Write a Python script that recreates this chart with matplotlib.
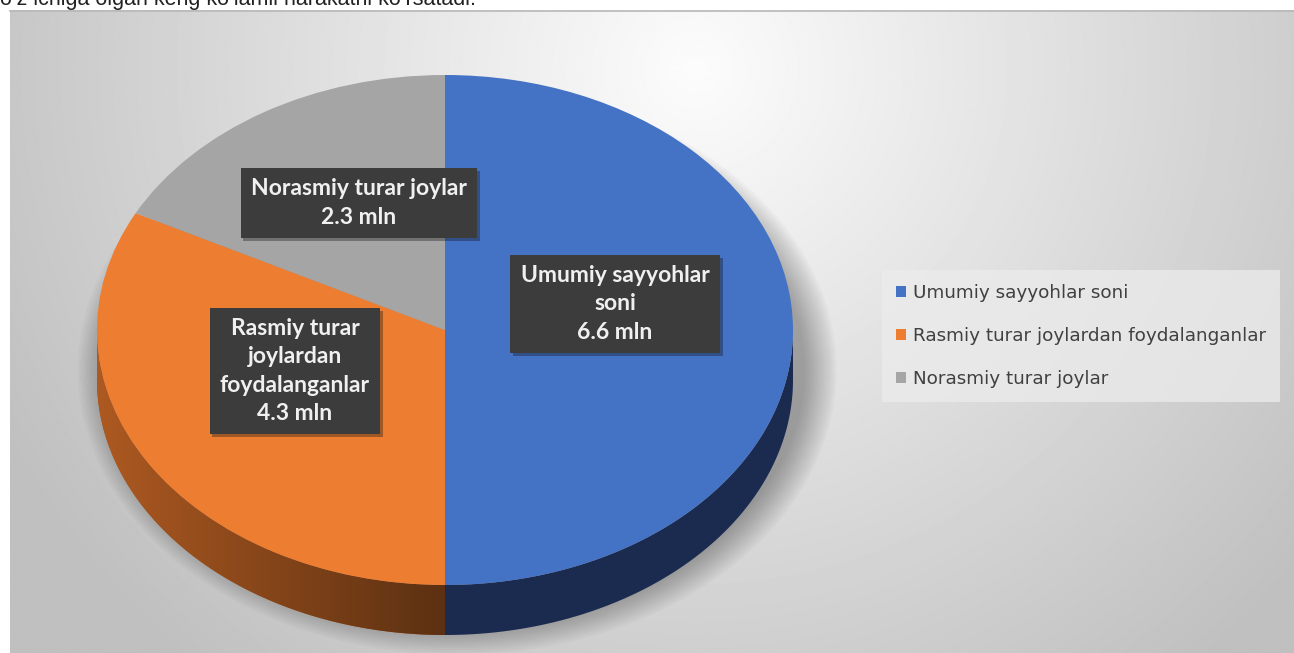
import numpy as np
import matplotlib.pyplot as plt
from matplotlib.patches import Polygon, Ellipse, Patch
import matplotlib.patheffects as pe

# --- Adatok ---
categories = ["Umumiy sayyohlar soni",
              "Rasmiy turar joylardan foydalanganlar",
              "Norasmiy turar joylar"]
values = [6.6, 4.3, 2.3]
label_names = ["Umumiy sayyohlar\nsoni",
               "Rasmiy turar\njoylardan\nfoydalanganlar",
               "Norasmiy turar joylar"]
colors = ["#4472C4", "#ED7D31", "#A5A5A5"]
side_colors = ["#1B2B50", "#A0521F", "#6a6a6a"]
header_text = "o‘z ichiga olgan keng ko‘lamli harakatni ko‘rsatadi."

W, H = 1294, 653
fig = plt.figure(figsize=(W / 100, H / 100), dpi=100)

# háttér (pixel koordináták)
bg = fig.add_axes([0, 0, 1, 1])
bg.set_xlim(0, W)
bg.set_ylim(H, 0)
bg.axis("off")

yy, xx = np.mgrid[0:H, 0:W]
r = np.sqrt(((xx - 690) / 760.0) ** 2 + ((yy - 60) / 760.0) ** 2)
shade = np.clip(252 - 58 * r, 192, 252) / 255.0
bg.imshow(shade, cmap="gray", vmin=0, vmax=1, extent=[10, W, H, 10],
          aspect="auto", zorder=0)
bg.plot([10, W], [10.5, 10.5], color="#b8b8b8", lw=1.2, zorder=1)
bg.text(0, 5, header_text, fontsize=15.5, family="Liberation Sans",
        color="#222222", va="baseline", ha="left")

# --- 3D kördiagram ---
cx, cy, rx, ry = 445, 330, 348, 255
depth = 50 / ry
m = 1.15
ax = fig.add_axes([(cx - m * rx) / W, (H - (cy + (m + depth) * ry)) / H,
                   2 * m * rx / W, (2 * m + depth) * ry / H])

# árnyék
for s in np.linspace(0.0, 0.09, 14):
    ax.add_patch(Ellipse((0.035, -depth * 0.8), 2 * (1 + s), 2 * (1 + s * 1.3),
                         facecolor="black", alpha=0.022, lw=0, clip_on=False))

# oldalfal: szögek az értékekből (startangle=90, óramutató irányában)
fr = np.array(values) / sum(values)
ends = 90 - 360 * np.cumsum(fr)
starts = np.concatenate([[90], ends[:-1]])
for i in range(len(values)):
    a, b = ends[i], starts[i]
    lo, hi = max(a, -180), min(b, 0)
    if lo >= hi:
        continue
    t = np.radians(np.linspace(lo, hi, 200))
    top = np.column_stack([np.cos(t), np.sin(t)])
    bot = np.column_stack([np.cos(t[::-1]), np.sin(t[::-1]) - depth])
    poly = Polygon(np.vstack([top, bot]), closed=True,
                   facecolor=side_colors[i], lw=0)
    ax.add_patch(poly)
    if i == 1:
        grad = np.linspace(0, 1, 256).reshape(1, -1)
        c0 = np.array([0.68, 0.35, 0.13])
        c1 = np.array([0.36, 0.19, 0.07])
        img = c0 + (c1 - c0) * grad[..., None]
        im = ax.imshow(img, extent=[np.cos(np.radians(lo)), np.cos(np.radians(hi)),
                                    -1 - depth, 0], aspect="auto", zorder=1)
        im.set_clip_path(poly)

ax.pie(values, colors=colors, startangle=90, counterclock=False,
       wedgeprops=dict(linewidth=0, zorder=3))
ax.set_aspect("auto")
ax.set_xlim(-m, m)
ax.set_ylim(-m - depth, m)
ax.axis("off")

# --- címkék (felső réteg) ---
top_ax = fig.add_axes([0, 0, 1, 1])
top_ax.set_xlim(0, W)
top_ax.set_ylim(H, 0)
top_ax.axis("off")
top_ax.patch.set_alpha(0)

label_pos = [(615, 304), (295, 371), (359, 203)]
for name, val, (lx, ly) in zip(label_names, values, label_pos):
    t = top_ax.text(lx, ly, f"{name}\n{val} mln", ha="center", va="center",
                    fontsize=16.5, fontweight="bold", family="Lato",
                    color="#f0f0f0", linespacing=1.42, zorder=5,
                    bbox=dict(boxstyle="square,pad=0.45", facecolor="#3c3c3c",
                              edgecolor="none"))
    t.get_bbox_patch().set_path_effects(
        [pe.SimplePatchShadow(offset=(2, -2), alpha=0.35), pe.Normal()])

# --- jelmagyarázat ---
handles = [Patch(facecolor=c, edgecolor="none") for c in colors]
leg = fig.legend(handles, categories, loc="center left",
                 bbox_to_anchor=(882 / W, 1 - 336 / H), frameon=True,
                 fancybox=False, facecolor="#ececec", edgecolor="none",
                 framealpha=0.75, labelspacing=1.38, borderaxespad=0,
                 handlelength=0.55, handleheight=0.55, handletextpad=0.4,
                 borderpad=0.75, prop={"family": "DejaVu Sans", "size": 13.2})
for txt in leg.get_texts():
    txt.set_color("#404040")

fig.savefig("out.png", dpi=100)
